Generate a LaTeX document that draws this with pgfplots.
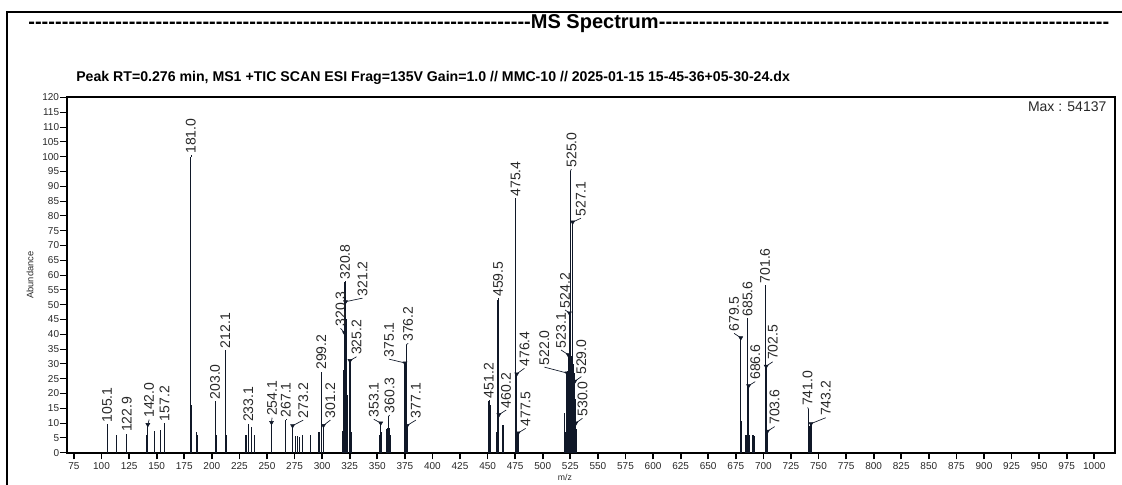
\documentclass[border=0pt]{standalone}
\usepackage{fontspec}
\setmainfont{Liberation Sans}
\usepackage{pgfplots}
\usepackage{pgfplotstable}
\pgfplotsset{compat=1.18}
\definecolor{peak}{RGB}{16,24,40}
\definecolor{txt}{RGB}{40,40,40}

\pgfplotstableread{
x y
105.1 9.2
113.6 6.0
122.9 6.0
140.6 6.0
142.0 9.5
148.3 7.2
153.4 7.8
157.2 9.6
181.0 100
181.4 16.0
186.0 6.9
187.1 6.0
203.0 17.0
203.4 6.0
204.1 6.0
212.1 34.3
213.0 6.0
231.0 6.0
233.1 9.4
235.8 8.7
239.0 6.0
254.1 10.2
267.1 10.9
273.2 9.1
275.9 5.7
277.9 5.5
279.8 5.3
282.3 6.0
289.8 5.8
297.2 7.0
299.2 27.0
301.2 9.2
318.2 7.2
319.4 24.7
319.8 28.0
320.3 40.5
320.8 57.5
321.2 51.0
321.6 45.0
322.0 38.0
322.4 30.0
322.8 19.6
325.2 31.1
326.8 7.0
351.8 6.0
353.1 10.0
353.7 7.0
358.6 8.0
359.2 8.2
359.8 8.0
360.3 12.3
360.9 8.5
361.6 6.0
375.1 30.3
376.2 36.5
377.1 9.2
451.2 17.4
452.2 16.0
458.3 7.0
459.5 51.7
460.2 12.8
464.0 9.5
475.4 85.5
476.4 26.6
477.5 6.6
519.5 13.4
520.6 7.0
521.0 7.0
521.5 27.0
522.0 26.9
522.5 27.5
523.1 33.1
523.6 33.0
524.2 47.2
524.6 33.0
525.0 95.3
525.4 33.0
525.8 32.5
526.2 32.0
526.6 31.0
527.1 77.9
527.5 30.0
528.0 29.0
528.5 27.0
529.0 24.1
529.5 18.0
530.0 10.0
530.5 8.0
679.5 38.8
680.0 10.6
684.3 6.0
685.6 45.0
686.2 6.0
686.6 22.6
687.2 6.0
689.9 5.8
690.6 5.8
691.6 5.6
692.3 5.6
701.6 56.2
702.0 8.0
702.5 29.2
703.0 8.0
703.6 7.2
741.0 14.8
742.0 9.0
743.2 9.8
}\spectrum

\pgfplotstableread{
x y
142.0 9.5
254.1 10.2
273.2 9.1
301.2 9.2
320.3 40.5
321.2 51.0
325.2 31.1
353.1 10.0
375.1 30.3
377.1 9.2
460.2 12.8
476.4 26.6
477.5 6.6
522.0 26.9
523.1 33.1
524.2 47.2
527.1 77.9
529.0 24.1
530.0 10.0
679.5 38.8
686.6 22.6
702.5 29.2
703.6 7.2
743.2 9.8
}\markers

\pgfplotstableread{
x y xl yl label
105.1 9.2 105.1 9.6 105.1
122.9 6.0 122.9 6.4 122.9
142.0 9.5 143.2 11.2 142.0
157.2 9.6 157.2 10.0 157.2
181.0 100 181.0 100.4 181.0
203.0 17.0 203.0 17.4 203.0
212.1 34.3 212.1 34.7 212.1
233.1 9.4 233.1 9.8 233.1
254.1 10.2 254.6 11.8 254.1
267.1 10.9 267.1 11.3 267.1
273.2 9.1 282.9 11.0 273.2
299.2 27.0 299.2 27.4 299.2
301.2 9.2 307.5 11.0 301.2
320.3 40.5 316.7 42.0 320.3
320.8 57.5 320.8 57.9 320.8
321.2 51.0 336.6 52.2 321.2
325.2 31.1 331.2 32.4 325.2
353.1 10.0 346.8 11.3 353.1
360.3 12.3 361.2 12.7 360.3
375.1 30.3 360.6 31.6 375.1
376.2 36.5 378.0 36.9 376.2
377.1 9.2 385.0 11.0 377.1
451.2 17.4 451.2 17.8 451.2
459.5 51.7 459.5 52.1 459.5
460.2 12.8 466.8 14.4 460.2
475.4 85.5 475.4 85.9 475.4
476.4 26.6 483.4 28.5 476.4
477.5 6.6 484.5 8.2 477.5
522.0 26.9 501.5 28.9 522.0
523.1 33.1 516.5 34.7 523.1
524.2 47.2 520.2 48.2 524.2
525.0 95.3 526.0 95.7 525.0
527.1 77.9 534.6 79.2 527.1
529.0 24.1 535.0 25.7 529.0
530.0 10.0 536.0 11.6 530.0
679.5 38.8 673.5 40.3 679.5
685.6 45.0 685.6 45.4 685.6
686.6 22.6 692.6 24.0 686.6
701.6 56.2 701.6 56.6 701.6
702.5 29.2 708.5 30.7 702.5
703.6 7.2 710.2 8.8 703.6
741.0 14.8 740.0 15.2 741.0
743.2 9.8 756.5 11.8 743.2
}\labels

\begin{document}
\begin{tikzpicture}
\useasboundingbox (-50pt,-24.2pt) rectangle (791.5pt,339.5pt);
\draw[line width=1.5pt] (-44.4pt,-30pt) -- (-44.4pt,330.5pt) -- (800pt,330.5pt);
\node[anchor=base west, inner sep=0pt, font=\bfseries\fontsize{15}{18}\selectfont]
  at (-29pt,318.3pt) {\hbox to 377pt{\xleaders\hbox{-}\hfill}MS Spectrum\hbox to 338pt{\xleaders\hbox{-}\hfill}};
\begin{axis}[
  at={(0pt,0pt)}, anchor=south west,
  scale only axis, width=786.6pt, height=266.4pt,
  xmin=68.4, xmax=1019.2, ymin=0, ymax=120,
  clip=false,
  axis line style={line width=1.5pt},
  tick align=outside, tick pos=left,
  xtick={75,100,...,1000}, ytick={0,5,...,120},
  major tick length=5pt,
  xtick style={line width=1.3pt, black},
  ytick style={line width=0.8pt, black},
  /pgf/number format/assume math mode=true,
  /pgf/number format/1000 sep={},
  xticklabel style={font=\fontsize{7.5}{9}\selectfont, text=txt, inner sep=1pt, yshift=-1pt},
  yticklabel style={font=\fontsize{7.5}{9}\selectfont, text=txt, inner sep=0.5pt},
  title={Peak RT=0.276 min, MS1 +TIC SCAN ESI Frag=135V Gain=1.0 // MMC-10 // 2025-01-15 15-45-36+05-30-24.dx},
  title style={at={(axis description cs:0.0089,1)}, anchor=base west, yshift=6.2pt, inner sep=0pt,
    font=\bfseries\fontsize{10.6}{12}\selectfont},
  ylabel={Abundance},
  ylabel style={at={(axis description cs:-0.035,0.5)}, anchor=center, font=\fontsize{7}{8}\selectfont, text=txt},
  xlabel={m/z},
  xlabel style={at={(axis description cs:0.475,-0.071)}, anchor=center, font=\fontsize{6.5}{8}\selectfont, text=txt},
]
\addplot[ycomb, peak, line width=0.9pt, mark=none] table[x=x, y=y] {\spectrum};
\addplot[quiver={u=\thisrow{xl}-\thisrow{x}, v=\thisrow{yl}-\thisrow{y}}, peak, line width=0.5pt, mark=none] table[x=x, y=y] {\labels};
\addplot[only marks, mark=triangle*, mark size=1.7pt, peak, mark options={rotate=180}] table[x=x, y=y] {\markers};
\addplot[draw=none, mark=none, nodes near coords, point meta=explicit symbolic,
  nodes near coords style={rotate=90, anchor=west, inner sep=1.2pt, font=\fontsize{10.5}{12}\selectfont, text=txt}]
  table[x=xl, y=yl, meta=label] {\labels};
\node[anchor=base east, inner sep=0pt, font=\fontsize{10.5}{12}\selectfont, text=txt] at (rel axis cs:0.9916,0.96) {Max : 54137};
\end{axis}
\end{tikzpicture}
\end{document}
